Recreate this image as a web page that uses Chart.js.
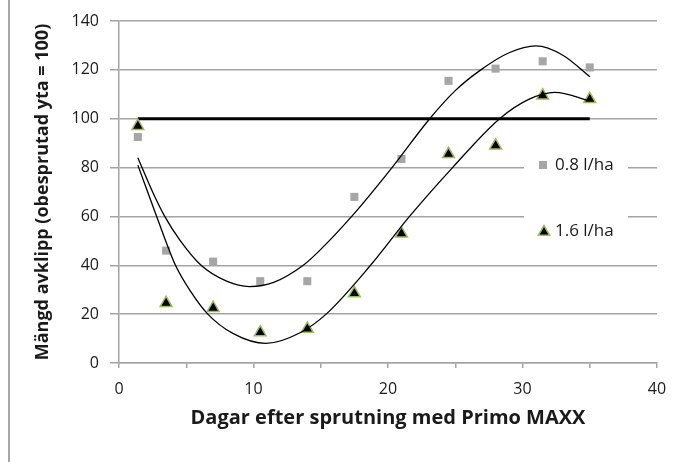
<!DOCTYPE html>
<html>
<head>
<meta charset="utf-8">
<title>Mängd avklipp</title>
<script src="https://cdn.jsdelivr.net/npm/chart.js@4.4.0/dist/chart.umd.min.js"></script>
<style>
  body { margin: 0; background: #fff; }
  canvas { display: block; }
</style>
</head>
<body>
<canvas id="chart" width="686" height="462"></canvas>
<script>
// measured values (days after spraying)
const days = [1.4, 3.5, 7, 10.5, 14, 17.5, 21, 24.5, 28, 31.5, 35];
const dose08 = [92.5, 46, 41.5, 33.5, 33.5, 68, 83.5, 115.5, 120.5, 123.5, 121];
const dose16 = [97, 24.5, 22.5, 12.5, 14, 28.5, 53, 85.5, 89, 109.5, 108];

// untreated reference (= 100)
const refX = [1.4, 35];
const refY = [100, 100];

// trend lines
const trend08X = [1.4, 2.5, 3.4, 4.5, 6.1, 8, 9.7, 11.5, 13.7, 15, 17.3, 20.3, 23.1, 25, 26.9, 29, 31, 33, 35];
const trend08Y = [84, 70, 60, 50.5, 40, 33.5, 31.3, 33, 40, 46.5, 60, 80, 100, 111.5, 120, 127, 129.8, 126, 117.2];
const trend16X = [1.4, 2.8, 4.2, 5.3, 6.6, 8.5, 10.9, 13.5, 15.4, 18.7, 21.6, 24.8, 28.3, 30.5, 32.4, 35];
const trend16Y = [81, 60, 40, 29.5, 20, 12, 8, 12.5, 20, 40, 60, 80, 100, 108, 110.8, 107.3];

const seriesLabels = ["0.8 l/ha", "1.6 l/ha"];
const xLabels = [0, 10, 20, 30, 40];
const yLabels = [0, 20, 40, 60, 80, 100, 120, 140];

const toPoints = (xs, ys) => xs.map((x, i) => ({ x: x, y: ys[i] }));

const GRID = "#a3a3a3";
const TEXT = "#1a1a1a";

// grey frame line on the left + white background
const frame = {
  id: "frame",
  beforeDraw(chart) {
    const ctx = chart.ctx;
    ctx.save();
    ctx.fillStyle = "#fff";
    ctx.fillRect(0, 0, chart.width, chart.height);
    ctx.fillStyle = "#a6a6a6";
    ctx.fillRect(8, 0, 2, chart.height);
    ctx.restore();
  }
};

// legend sits inside the plot, on a white box over the gridlines
const insideLegend = {
  id: "insideLegend",
  beforeDatasetsDraw(chart) {
    const ctx = chart.ctx;
    ctx.save();
    ctx.fillStyle = "#fff";
    ctx.fillRect(524, 135, 104, 120);
    ctx.restore();
  },
  afterDraw(chart) {
    const ctx = chart.ctx;
    const ds = chart.data.datasets;
    ctx.save();
    // square
    ctx.fillStyle = ds[0].backgroundColor;
    ctx.fillRect(539, 161, 8, 8);
    // triangle
    const tx = 544, ty = 232, r = 6.5;
    ctx.beginPath();
    ctx.moveTo(tx, ty - r);
    ctx.lineTo(tx + r * 0.866, ty + r * 0.5);
    ctx.lineTo(tx - r * 0.866, ty + r * 0.5);
    ctx.closePath();
    ctx.fillStyle = ds[1].backgroundColor;
    ctx.fill();
    ctx.lineWidth = ds[1].borderWidth;
    ctx.strokeStyle = ds[1].borderColor;
    ctx.stroke();
    ctx.fillStyle = TEXT;
    ctx.font = '17px "Open Sans"';
    ctx.textBaseline = "middle";
    ctx.fillText(ds[0].label, 555, 165);
    ctx.fillText(ds[1].label, 555, 231);
    ctx.restore();
  }
};

new Chart(document.getElementById("chart"), {
  type: "scatter",
  data: {
    datasets: [
      {
        label: seriesLabels[0],
        data: toPoints(days, dose08),
        pointStyle: "rect",
        pointRadius: 5.7,
        pointBorderWidth: 0,
        backgroundColor: "#a6a6a6",
        borderColor: "#a6a6a6",
        order: 2
      },
      {
        label: seriesLabels[1],
        data: toPoints(days, dose16),
        pointStyle: "triangle",
        pointRadius: 6.8,
        borderWidth: 1.5,
        backgroundColor: "#000",
        borderColor: "#9bbb59",
        order: 2
      },
      {
        label: "ref",
        data: toPoints(refX, refY),
        showLine: true,
        pointRadius: 0,
        borderColor: "#000",
        borderWidth: 3,
        order: 3
      },
      {
        label: "trend 0.8",
        data: toPoints(trend08X, trend08Y),
        showLine: true,
        pointRadius: 0,
        borderColor: "#000",
        borderWidth: 1.3,
        cubicInterpolationMode: "monotone",
        order: 1
      },
      {
        label: "trend 1.6",
        data: toPoints(trend16X, trend16Y),
        showLine: true,
        pointRadius: 0,
        borderColor: "#000",
        borderWidth: 1.3,
        cubicInterpolationMode: "monotone",
        order: 1
      }
    ]
  },
  options: {
    responsive: false,
    animation: false,
    devicePixelRatio: 1,
    layout: { padding: { left: 10, top: 21, right: 29, bottom: 0 } },
    plugins: {
      legend: { display: false },
      tooltip: { enabled: false }
    },
    scales: {
      x: {
        type: "linear",
        min: 0,
        max: 40,
        grid: { drawOnChartArea: false, color: GRID, lineWidth: 1.5, tickLength: 5 },
        border: { color: GRID, width: 1.5 },
        ticks: {
          stepSize: 5,
          padding: 12,
          color: TEXT,
          font: { family: "Open Sans", size: 16 },
          callback: (v) => (xLabels.includes(v) ? v : "")
        },
        title: {
          display: true,
          text: "Dagar efter sprutning med Primo MAXX",
          color: TEXT,
          font: { family: "Open Sans", size: 20, weight: "bold" },
          padding: { top: 0, bottom: 31.5 }
        },
        afterFit: (scale) => { scale.height = 99; }
      },
      y: {
        min: 0,
        max: 140,
        grid: { color: GRID, lineWidth: 1.5, tickLength: 9 },
        border: { color: GRID, width: 1.5 },
        ticks: {
          stepSize: 20,
          padding: 11,
          color: TEXT,
          font: { family: "Open Sans", size: 16 },
          callback: (v) => (yLabels.includes(v) ? v : "")
        },
        title: {
          display: true,
          text: "Mängd avklipp (obesprutad yta = 100)",
          color: TEXT,
          font: { family: "Open Sans", size: 18, weight: "bold" },
          padding: { top: 22, bottom: 0 }
        },
        afterFit: (scale) => { scale.width = 109; }
      }
    }
  },
  plugins: [frame, insideLegend]
});
</script>
</body>
</html>
